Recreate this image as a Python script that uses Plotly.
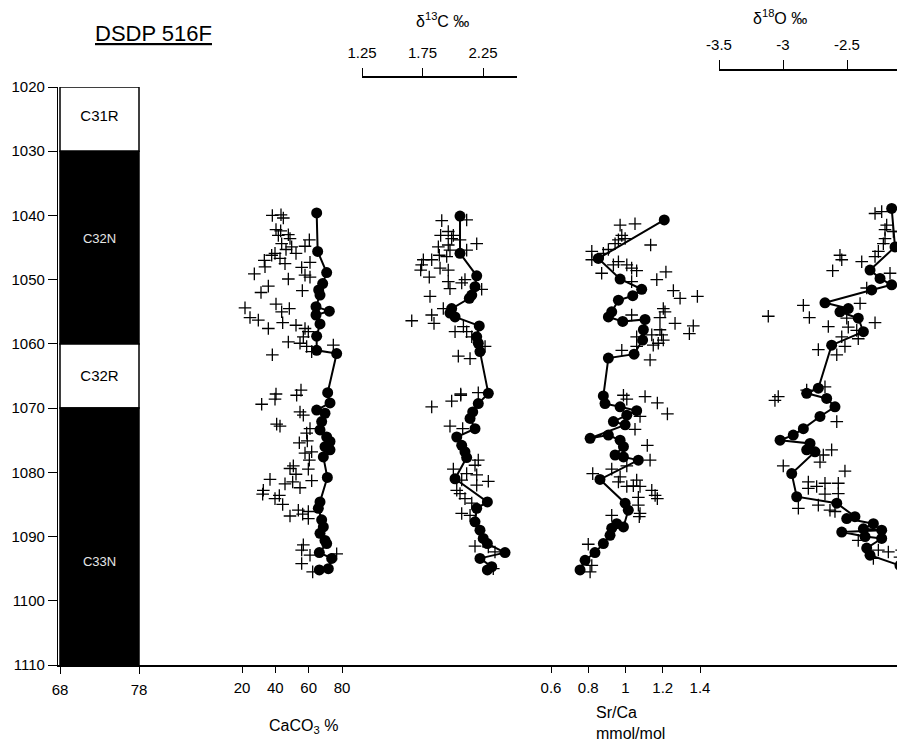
import plotly.graph_objects as go

# ---------------- data ----------------
depth_ticks = [1020, 1030, 1040, 1050, 1060, 1070, 1080, 1090, 1100, 1110]

chron_names = ["C31R", "C32N", "C32R", "C33N"]
chron_top = [1020, 1030, 1060, 1070]
chron_base = [1030, 1060, 1070, 1110]
chron_fill = ["white", "black", "white", "black"]
chron_text_color = ["black", "#e6e6e6", "black", "#e6e6e6"]
chron_text_size = [15, 13, 15, 13]
chron_label_depth = [1024.7, 1043.8, 1065.2, 1094.1]
mag_left, mag_right = 68, 78

# CaCO3 %  (connected circles)
caco3_line_val = [64.8, 65.4, 70.8, 68.4, 66.0, 66.8, 64.4, 72.4, 64.4, 66.8, 64.8, 64.8, 76.8, 71.4,
                  72.8, 64.8, 69.8, 67.8, 66.8, 70.8, 72.8, 69.8, 72.8, 68.8, 71.2, 66.8, 65.8, 67.8,
                  68.8, 66.8, 69.8, 70.8, 66.4, 73.8, 71.8, 66.4]
caco3_line_depth = [1039.6, 1045.6, 1048.9, 1050.6, 1051.6, 1052.4, 1054.2, 1054.9, 1055.5, 1056.9, 1058.8,
                    1061.0, 1061.5, 1067.6, 1069.2, 1070.3, 1070.8, 1072.1, 1073.4, 1074.5, 1075.2, 1076.0,
                    1076.5, 1077.6, 1080.8, 1084.6, 1085.6, 1087.4, 1088.5, 1089.5, 1090.6, 1091.1, 1092.5,
                    1093.4, 1095.0, 1095.2]
# CaCO3 %  (crosses)
caco3_pt_val = [38.2, 43.4, 44.8, 40.4, 43.2, 41.8, 47.8, 48.8, 43.8, 60.4, 57.8, 49.8, 46.4, 52.4, 39.8,
                37.8, 42.8, 33.4, 45.8, 60.8, 33.8, 55.8, 27.4, 57.8, 60.8, 47.8, 35.8, 31.4, 56.2, 21.8,
                40.4, 43.8, 48.4, 24.8, 29.8, 44.4, 35.8, 52.4, 57.8, 59.8, 56.8, 47.8, 54.8, 58.8, 61.8,
                38.2, 74.8,
                40.4, 39.8, 52.8, 55.4, 31.8, 54.8, 56.8, 40.8, 42.8, 60.8, 58.8, 54.4, 59.2, 57.8, 61.8,
                60.4, 48.8, 50.8, 52.4, 59.8, 36.8, 45.8, 50.4, 54.8, 61.8, 32.8, 32.4, 39.8, 42.4, 44.4,
                48.8, 53.8, 56.4, 59.8, 59.8, 56.8, 55.8, 60.8, 55.8, 76.8, 62.4]
caco3_pt_depth = [1040.0, 1039.9, 1040.4, 1042.2, 1042.4, 1043.1, 1043.0, 1043.6, 1044.4, 1043.8, 1044.8,
                  1044.9, 1045.3, 1045.9, 1045.9, 1046.2, 1046.7, 1047.0, 1047.5, 1047.3, 1048.0, 1048.1,
                  1049.1, 1049.3, 1049.6, 1049.9, 1051.0, 1052.0, 1051.7, 1054.4, 1053.8, 1055.0, 1054.5,
                  1055.9, 1056.3, 1056.7, 1057.6, 1057.1, 1057.6, 1058.1, 1058.9, 1059.7, 1059.9, 1060.4,
                  1061.2, 1061.7, 1060.2,
                  1067.8, 1068.6, 1068.0, 1067.2, 1069.4, 1070.6, 1071.1, 1072.5, 1072.8, 1073.2, 1073.9,
                  1075.4, 1075.1, 1077.0, 1076.8, 1078.1, 1079.4, 1079.0, 1080.3, 1079.5, 1081.1, 1081.8,
                  1081.5, 1082.4, 1081.3, 1082.8, 1083.4, 1084.1, 1083.6, 1085.0, 1086.8, 1085.9, 1086.5,
                  1086.1, 1087.2, 1091.3, 1092.1, 1092.9, 1094.2, 1092.7, 1095.5]

# d13C permil (connected circles)
d13c_line_val = [2.060, 2.060, 2.198, 2.184, 2.157, 2.137, 1.991, 1.977, 2.019, 2.219, 2.198, 2.211, 2.225,
                 2.294, 2.211, 2.165, 2.143, 2.184, 2.033, 2.074, 2.101, 2.115, 2.019, 2.286, 2.198, 2.184,
                 2.225, 2.252, 2.286, 2.432, 2.225, 2.322, 2.286]
d13c_line_depth = [1040.1, 1045.9, 1049.4, 1051.1, 1052.4, 1052.9, 1054.5, 1055.2, 1055.8, 1057.2, 1058.9,
                   1059.9, 1061.2, 1067.7, 1069.3, 1070.6, 1071.6, 1073.2, 1074.5, 1075.8, 1076.8, 1077.7,
                   1081.0, 1084.6, 1085.6, 1087.7, 1089.0, 1090.3, 1091.1, 1092.5, 1093.4, 1094.7, 1095.2]
# d13C permil (crosses)
d13c_pt_val = [1.909, 2.115, 1.900, 1.963, 1.991, 2.005, 2.060, 1.881, 1.963, 2.198, 2.115, 1.977, 1.889,
               1.950, 1.757, 1.826, 1.743, 1.895, 1.963, 1.735, 1.806, 2.101, 2.074, 1.963, 1.977, 2.239,
               1.812, 1.922, 1.826, 1.661, 1.845, 2.088, 2.019, 2.115, 2.157, 2.267, 2.046, 2.143, 2.066,
               2.211,
               1.826, 1.991, 2.066, 1.977, 2.082, 2.211, 2.184, 2.005, 2.115, 2.198, 2.074, 2.294, 2.198,
               2.033, 2.060, 2.101, 2.157, 2.074, 2.143, 2.184, 2.294, 2.349, 2.335]
d13c_pt_depth = [1040.8, 1040.7, 1043.1, 1042.5, 1043.6, 1043.1, 1043.8, 1044.9, 1044.6, 1044.4, 1045.4,
                 1045.4, 1046.2, 1046.4, 1046.9, 1046.9, 1047.7, 1048.2, 1048.5, 1048.5, 1049.6, 1050.0,
                 1050.5, 1050.3, 1051.4, 1051.5, 1052.6, 1054.5, 1055.5, 1056.4, 1056.8, 1057.3, 1058.1,
                 1058.1, 1058.9, 1060.4, 1061.9, 1062.3, 1067.8, 1067.6,
                 1069.8, 1068.9, 1068.0, 1072.8, 1073.2, 1078.1, 1078.9, 1079.5, 1080.2, 1080.4, 1081.2,
                 1081.4, 1082.0, 1082.8, 1083.3, 1084.1, 1084.8, 1086.4, 1086.7, 1091.5, 1091.6, 1092.4,
                 1095.0]

# Sr/Ca mmol/mol (connected circles)
srca_line_val = [1.208, 0.854, 0.971, 1.087, 1.039, 0.962, 0.926, 0.908, 0.985, 1.105, 1.096, 1.092, 1.046,
                 0.908, 0.881, 0.890, 0.971, 1.060, 1.007, 0.935, 0.998, 0.810, 0.908, 0.971, 0.989, 0.944,
                 0.989, 1.069, 0.863, 0.998, 1.015, 0.989, 0.953, 0.926, 0.917, 0.881, 0.836, 0.783, 0.756]
srca_line_depth = [1040.7, 1046.7, 1049.9, 1051.5, 1052.5, 1053.2, 1055.0, 1055.8, 1056.5, 1056.2, 1057.8,
                   1059.4, 1061.6, 1062.2, 1068.1, 1069.3, 1069.8, 1070.4, 1071.1, 1072.1, 1072.6, 1074.7,
                   1074.2, 1075.0, 1076.0, 1077.3, 1077.6, 1078.1, 1081.1, 1084.8, 1085.9, 1088.5, 1088.0,
                   1088.7, 1089.8, 1091.1, 1092.5, 1093.7, 1095.2]
# Sr/Ca mmol/mol (crosses)
srca_pt_val = [0.971, 1.051, 0.980, 0.962, 0.998, 0.944, 1.135, 0.908, 0.819, 0.881, 0.819, 0.962, 0.935,
               1.007, 1.033, 1.060, 0.872, 1.217, 1.168, 1.033, 1.257, 1.293, 1.386, 1.203, 1.212, 1.185,
               1.033, 1.266, 1.185, 1.364, 1.343, 1.194, 1.203, 1.141, 1.060, 1.176, 1.149, 0.980, 1.060,
               1.132,
               0.989, 1.007, 1.105, 1.171, 1.225, 1.078, 1.051, 1.117, 1.132, 0.926, 1.007, 0.824, 0.971,
               0.962, 1.060, 1.007, 1.042, 1.078, 1.141, 1.159, 1.171, 1.069, 1.069, 1.078, 1.074, 0.926,
               0.800, 0.819, 0.810]
srca_pt_depth = [1041.5, 1041.3, 1043.1, 1043.8, 1043.6, 1044.4, 1044.6, 1045.3, 1045.6, 1045.9, 1046.9,
                 1047.2, 1047.7, 1047.7, 1048.2, 1048.6, 1049.0, 1048.8, 1050.0, 1050.3, 1051.7, 1052.9,
                 1052.6, 1054.5, 1055.0, 1055.9, 1055.5, 1056.8, 1057.8, 1057.2, 1058.4, 1058.6, 1059.4,
                 1058.6, 1058.9, 1059.9, 1060.2, 1061.0, 1060.4, 1062.5,
                 1068.0, 1068.6, 1068.2, 1069.2, 1070.9, 1071.3, 1073.3, 1075.8, 1078.1, 1079.5, 1079.0,
                 1080.2, 1080.7, 1081.5, 1081.2, 1082.2, 1082.1, 1082.2, 1082.8, 1083.6, 1084.1, 1083.9,
                 1085.1, 1086.4, 1086.9, 1086.7, 1091.2, 1094.5, 1095.5]

# d18O permil (connected circles)
d18o_line_val = [-2.151, -2.125, -2.320, -2.242, -2.151, -2.307, -2.672, -2.490, -2.555, -2.412, -2.372,
                 -2.620, -2.724, -2.815, -2.659, -2.594, -2.711, -2.841, -2.920, -3.023, -2.789, -2.815,
                 -2.750, -2.932, -2.893, -2.580, -2.438, -2.502, -2.294, -2.372, -2.229, -2.541, -2.359,
                 -2.229, -2.346, -2.320, -2.086]
d18o_line_depth = [1038.9, 1044.9, 1048.5, 1049.8, 1050.8, 1051.6, 1053.6, 1054.5, 1055.0, 1056.0, 1058.1,
                   1060.2, 1066.9, 1067.7, 1068.5, 1069.8, 1071.3, 1073.2, 1074.2, 1075.0, 1075.5, 1076.5,
                   1076.8, 1080.2, 1083.8, 1084.8, 1086.9, 1087.2, 1088.0, 1088.8, 1089.0, 1089.3, 1090.0,
                   1090.3, 1091.8, 1092.9, 1094.5]
# d18O permil (crosses)
d18o_pt_val = [-2.281, -2.229, -2.190, -2.203, -2.138, -2.086, -2.203, -2.216, -2.255, -2.281, -2.555,
               -2.541, -2.385, -2.612, -2.164, -2.346, -2.841, -2.398, -3.115, -2.794, -2.502, -2.281,
               -2.646, -2.490, -2.424, -2.412, -2.541, -2.516, -2.724, -2.580, -2.815, -2.672, -3.063,
               -3.037, -2.580, -2.620, -2.685, -2.711, -2.998, -2.516, -2.802, -2.737, -2.672, -2.568,
               -2.802, -2.672, -2.568, -2.880, -2.724, -2.633, -2.594, -2.412, -2.255, -2.177, -2.294,
               -2.073, -2.086]
d18o_pt_depth = [1039.7, 1039.4, 1041.5, 1042.2, 1042.5, 1042.5, 1043.6, 1044.4, 1045.6, 1046.4, 1046.2,
                 1046.9, 1047.2, 1048.6, 1049.0, 1051.3, 1054.0, 1053.7, 1055.7, 1055.9, 1056.0, 1056.7,
                 1057.3, 1057.4, 1057.9, 1059.2, 1058.9, 1060.4, 1060.9, 1061.7, 1067.2, 1066.7, 1068.8,
                 1068.2, 1072.1, 1076.5, 1077.3, 1078.4, 1079.0, 1079.8, 1081.5, 1082.2, 1081.7, 1081.7,
                 1082.5, 1083.4, 1083.3, 1085.6, 1085.1, 1085.9, 1086.1, 1090.6, 1092.1, 1092.4, 1093.4,
                 1092.1, 1093.2]

caco3_ticks = [20, 40, 60, 80]
srca_ticks = [0.6, 0.8, 1.0, 1.2, 1.4]
srca_ticktext = ["0.6", "0.8", "1", "1.2", "1.4"]
d13c_ticks = [1.25, 1.75, 2.25]
d13c_ticktext = ["1.25", "1.75", "2.25"]
d18o_ticks = [-3.5, -3.0, -2.5]
d18o_ticktext = ["-3.5", "-3", "-2.5"]

# ---------------- layout geometry (screen pixels) ----------------
VIEW_W, VIEW_H = 905, 747
OFF = 8                          # page body margin in the browser
W, H = VIEW_W - OFF, VIEW_H - OFF
FONT = "Liberation Sans, Arial, Helvetica, sans-serif"
Y_TOP, Y_BOT = 87, 665           # screen rows of 1020 and 1110
X_AX = 58                        # y-axis line column (screen)
X_END = W + OFF                  # right edge of figure (screen)


def px_x(p):
    return (p - OFF) / W


def px_y(p):
    return 1 - (p - OFF) / H


def rng(v0, p0, v1, p1, left, right):
    s = (p1 - p0) / (v1 - v0)
    return [v0 + (left - p0) / s, v0 + (right - p0) / s]


fig = go.Figure()

# magnetostratigraphy column
mids = [(a + b) / 2 for a, b in zip(chron_top, chron_base)]
thick = [b - a for a, b in zip(chron_top, chron_base)]
fig.add_trace(go.Bar(
    orientation="h", y=mids, x=[mag_right - mag_left] * len(mids), base=mag_left, width=thick,
    marker=dict(color=chron_fill, line=dict(color="black", width=1.5)),
    xaxis="x", yaxis="y", showlegend=False, hoverinfo="skip"))
fig.add_trace(go.Scatter(
    x=[(mag_left + mag_right) / 2] * len(chron_names), y=chron_label_depth, text=chron_names,
    mode="text", textfont=dict(color=chron_text_color, size=chron_text_size, family=FONT),
    xaxis="x", yaxis="y", showlegend=False, hoverinfo="skip"))

cross = dict(symbol="cross-thin", size=9, color="black", line=dict(width=1.3, color="black"))
dot = dict(symbol="circle", size=11, color="black")
panels = [
    ("x2", caco3_pt_val, caco3_pt_depth, caco3_line_val, caco3_line_depth),
    ("x3", d13c_pt_val, d13c_pt_depth, d13c_line_val, d13c_line_depth),
    ("x4", srca_pt_val, srca_pt_depth, srca_line_val, srca_line_depth),
    ("x5", d18o_pt_val, d18o_pt_depth, d18o_line_val, d18o_line_depth),
]
for ax, pv, pd_, lv, ld in panels:
    fig.add_trace(go.Scatter(x=pv, y=pd_, mode="markers", marker=cross, xaxis=ax, yaxis="y",
                             showlegend=False, hoverinfo="skip"))
    fig.add_trace(go.Scatter(x=lv, y=ld, mode="lines+markers", marker=dot,
                             line=dict(color="black", width=2), xaxis=ax, yaxis="y",
                             showlegend=False, hoverinfo="skip"))

tickfont = dict(family=FONT, size=15, color="black")
common = dict(showgrid=False, zeroline=False, ticks="outside", tickcolor="black", tickwidth=1.2,
              tickfont=tickfont, fixedrange=True, automargin=False)
bottom_dom = [px_x(X_AX), 1.0]

fig.update_layout(
    template="none",
    width=W, height=H, margin=dict(l=0, r=0, t=0, b=0, pad=0, autoexpand=False),
    paper_bgcolor="white", plot_bgcolor="rgba(0,0,0,0)",
    font=dict(family=FONT, color="black"),
    barmode="overlay",
    xaxis=dict(domain=bottom_dom, anchor="y", range=rng(68, 60, 78, 139, X_AX, X_END),
               tickvals=[68, 78], ticklen=7, ticklabelstandoff=3,
               showline=True, linecolor="black", linewidth=1.5, **common),
    xaxis2=dict(overlaying="x", anchor="y", side="bottom", range=rng(20, 242, 80, 342, X_AX, X_END),
                tickvals=caco3_ticks, ticklen=7, ticklabelstandoff=2, showline=False, **common),
    xaxis4=dict(overlaying="x", anchor="y", side="bottom", range=rng(0.6, 551, 1.4, 700, X_AX, X_END),
                tickvals=srca_ticks, ticktext=srca_ticktext, ticklen=7, ticklabelstandoff=2,
                showline=False, **common),
    xaxis3=dict(domain=[px_x(362), px_x(517)], anchor="free", position=px_y(77), side="top",
                range=rng(1.25, 362, 2.25, 483, 362, 517), tickvals=d13c_ticks, ticktext=d13c_ticktext,
                ticklen=8, ticklabelstandoff=4, showline=True, linecolor="black", linewidth=1.5, **common),
    xaxis5=dict(domain=[px_x(719), 1.0], anchor="free", position=px_y(70), side="top",
                range=rng(-3.5, 719, -2.5, 847, 719, X_END), tickvals=d18o_ticks, ticktext=d18o_ticktext,
                ticklen=9, ticklabelstandoff=4, showline=True, linecolor="black", linewidth=1.5, **common),
    yaxis=dict(domain=[px_y(Y_BOT), px_y(Y_TOP)], anchor="x", range=[1110, 1020],
               tickvals=depth_ticks, ticklen=9, showline=True, linecolor="black", linewidth=1.2,
               **common),
)

ann_font = dict(family=FONT, size=16, color="black")


def label(text, x, y, font=ann_font, xanchor="center", align="center"):
    fig.add_annotation(text=text, x=px_x(x), y=px_y(y), xref="paper", yref="paper",
                       xanchor=xanchor, yanchor="middle", align=align, showarrow=False, font=font)


label("<u>DSDP 516F</u>", 153, 33, font=dict(family=FONT, size=22, color="black"))
label("δ<sup>13</sup>C ‰", 442, 20)
label("δ<sup>18</sup>O ‰", 780, 17)
label("CaCO<sub>3</sub> %", 303, 726)
label("Sr/Ca<br>mmol/mol", 594, 723, xanchor="left", align="left")

fig.write_html("out.html")
